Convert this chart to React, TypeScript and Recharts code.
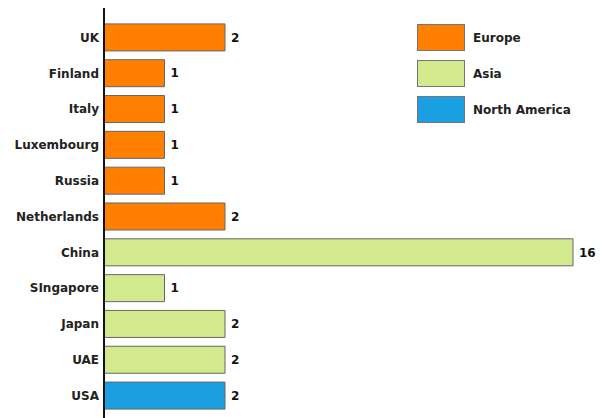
import React from 'react';
import { BarChart, Bar, XAxis, YAxis, Cell, LabelList, Legend } from 'recharts';

const countries = ['UK', 'Finland', 'Italy', 'Luxembourg', 'Russia', 'Netherlands', 'China', 'SIngapore', 'Japan', 'UAE', 'USA'];
const counts = [2, 1, 1, 1, 1, 2, 16, 1, 2, 2, 2];
const regionOf = ['Europe', 'Europe', 'Europe', 'Europe', 'Europe', 'Europe', 'Asia', 'Asia', 'Asia', 'Asia', 'North America'];

const regions = ['Europe', 'Asia', 'North America'];
const regionColors: Record<string, string> = {
  Europe: '#ff8000',
  Asia: '#d2ea8d',
  'North America': '#1a9fe0',
};

const data = countries.map((name, i) => ({ name, value: counts[i], region: regionOf[i] }));

const FONT = '"DejaVu Sans", sans-serif';

// the source chart squeezes the long bar: values up to 2 use about a quarter of the width
const BREAK_VALUE = 2;
const BREAK_SHARE = 0.258;

function brokenScale() {
  const build = (dom: number[], rng: number[]): any => {
    const s: any = (v: number) => {
      const lo = dom[0];
      const hi = dom[dom.length - 1];
      let t: number;
      if (v <= BREAK_VALUE) t = ((v - lo) / (BREAK_VALUE - lo)) * BREAK_SHARE;
      else t = BREAK_SHARE + ((v - BREAK_VALUE) / (hi - BREAK_VALUE)) * (1 - BREAK_SHARE);
      return rng[0] + t * (rng[1] - rng[0]);
    };
    s.domain = (d?: any[]) => {
      if (d === undefined) return dom.slice();
      dom = d.map(Number);
      return s;
    };
    s.range = (r?: number[]) => {
      if (r === undefined) return rng.slice();
      rng = r.slice();
      return s;
    };
    s.copy = () => build(dom.slice(), rng.slice());
    s.ticks = () => dom.slice();
    return s;
  };
  return build([0, 16], [0, 1]);
}

function RegionLegend() {
  return (
    <div style={{ fontFamily: FONT, fontSize: 12, fontWeight: 700, color: '#222' }}>
      {regions.map(r => (
        <div key={r} style={{ display: 'flex', alignItems: 'center', height: 36 }}>
          <div
            style={{
              width: 46,
              height: 25,
              background: regionColors[r],
              border: '1px solid #777',
              marginRight: 8,
            }}
          />
          <span>{r}</span>
        </div>
      ))}
    </div>
  );
}

export default function App() {
  return (
    <div style={{ position: 'absolute', left: 0, top: 0 }}>
      <BarChart
        width={603}
        height={418}
        data={data}
        layout="vertical"
        barCategoryGap="12%"
        margin={{ top: 8, right: 30, bottom: 0, left: 0 }}
      >
        <XAxis type="number" domain={[0, 16]} scale={brokenScale()} hide />
        <YAxis
          type="category"
          dataKey="name"
          width={104}
          padding={{ top: 11.6, bottom: 4.4 }}
          tickLine={false}
          tickSize={0}
          tickMargin={5}
          axisLine={{ stroke: '#111', strokeWidth: 2 }}
          tick={{ fill: '#222', fontSize: 12, fontWeight: 700, fontFamily: FONT }}
          interval={0}
        />
        <Legend
          layout="horizontal"
          verticalAlign="middle"
          align="center"
          content={() => <RegionLegend />}
          wrapperStyle={{ position: 'absolute', top: 19.5, left: 417, width: 180 }}
        />
        <Bar dataKey="value" stroke="#666" strokeWidth={1} isAnimationActive={false}>
          {data.map(d => (
            <Cell key={d.name} fill={regionColors[d.region]} />
          ))}
          <LabelList
            dataKey="value"
            position="right"
            offset={6}
            fill="#111"
            fontSize={12}
            fontWeight={700}
            fontFamily={FONT}
          />
        </Bar>
      </BarChart>
    </div>
  );
}
